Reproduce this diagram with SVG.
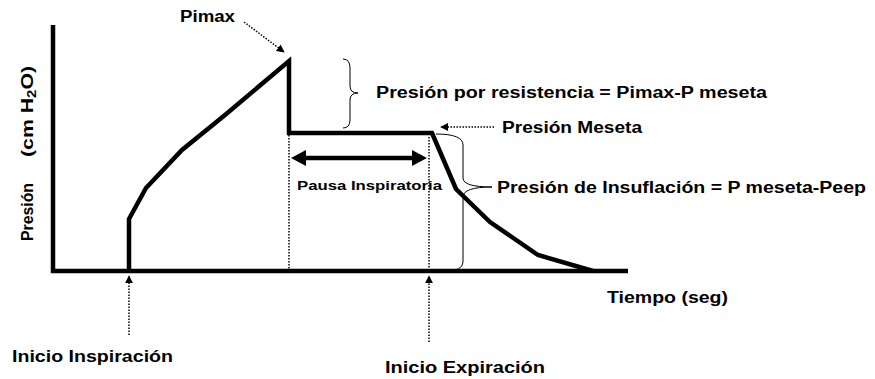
<svg xmlns="http://www.w3.org/2000/svg" width="875" height="379" viewBox="0 0 875 379">
<style>
.t{font-family:"Liberation Sans","DejaVu Sans",sans-serif;font-weight:bold;font-size:16px;fill:#000}
.thick{fill:none;stroke:#000;stroke-width:4.5;stroke-linejoin:miter;stroke-linecap:butt}
.dot{fill:none;stroke:#000;stroke-width:1.5;stroke-dasharray:1.5 1.5}
.thin{fill:none;stroke:#000;stroke-width:1}
</style>
<defs>
<marker id="ah" viewBox="0 0 10 10" refX="9" refY="5" markerWidth="8" markerHeight="8" markerUnits="userSpaceOnUse" orient="auto">
<path d="M0,0 L10,5 L0,10 z" fill="#000"/>
</marker>
</defs>
<g id="axes">
<path class="thick" d="M53,25 L53,271 L628,271"/>
</g>
<g id="curve">
<path class="thick" d="M129,271 L129,219 L146,188 L182,150 L225,115 L289,61 L289,133 L432,133 L456,189 L490,222 L538,255 L593,271"/>
</g>
<g id="connectors">
<path class="dot" d="M289,135 L289,271"/>
<path class="dot" d="M429,137 L429,271"/>
<g id="pausa-arrow">
<path d="M303,158 L415,158" stroke="#000" stroke-width="4.5" fill="none"/>
<polygon points="291,158 306,150 306,166" fill="#000"/>
<polygon points="427,158 412,150 412,166" fill="#000"/>
</g>
<path class="dot" d="M244,22 L284,52" marker-end="url(#ah)"/>
<path class="dot" d="M494,127 L441,127" marker-end="url(#ah)"/>
<path class="dot" d="M129,335 L129,276" marker-end="url(#ah)"/>
<path class="dot" d="M429,342 L429,276" marker-end="url(#ah)"/>
<path class="thin" d="M343,59 Q350,59 350,68 L350,86 Q350,93 358,93 Q350,93 350,100 L350,120 Q350,128 343,128"/>
<path class="thin" d="M436,134 Q463,134 463,145 L463,178 Q463,187 492,187 Q463,187 463,197 L463,262 Q463,271 445,271"/>
</g>
<g id="labels">
<text class="t" x="180" y="22" textLength="55" lengthAdjust="spacingAndGlyphs">Pimax</text>
<text class="t" x="376" y="98" textLength="391" lengthAdjust="spacingAndGlyphs">Presión por resistencia = Pimax-P meseta</text>
<text class="t" x="502" y="133" textLength="140" lengthAdjust="spacingAndGlyphs">Presión Meseta</text>
<text class="t" x="497" y="193" textLength="369" lengthAdjust="spacingAndGlyphs">Presión de Insuflación = P meseta-Peep</text>
<text class="t" x="297" y="190" style="font-size:13px" textLength="145" lengthAdjust="spacingAndGlyphs">Pausa Inspiratoria</text>
<text class="t" x="607" y="303" textLength="121" lengthAdjust="spacingAndGlyphs">Tiempo (seg)</text>
<text class="t" x="12" y="362" textLength="161" lengthAdjust="spacingAndGlyphs">Inicio Inspiración</text>
<text class="t" x="385" y="373" textLength="160" lengthAdjust="spacingAndGlyphs">Inicio Expiración</text>
<g id="ylabel" transform="translate(33,241) rotate(-90)">
<text class="t" x="0" y="0" style="font-size:17px" textLength="58" lengthAdjust="spacingAndGlyphs">Presión</text>
<text class="t" x="84" y="0" style="font-size:17px" textLength="91" lengthAdjust="spacingAndGlyphs">(cm H<tspan baseline-shift="-25%" style="font-size:12px">2</tspan>O)</text>
</g>
</g>
</svg>
